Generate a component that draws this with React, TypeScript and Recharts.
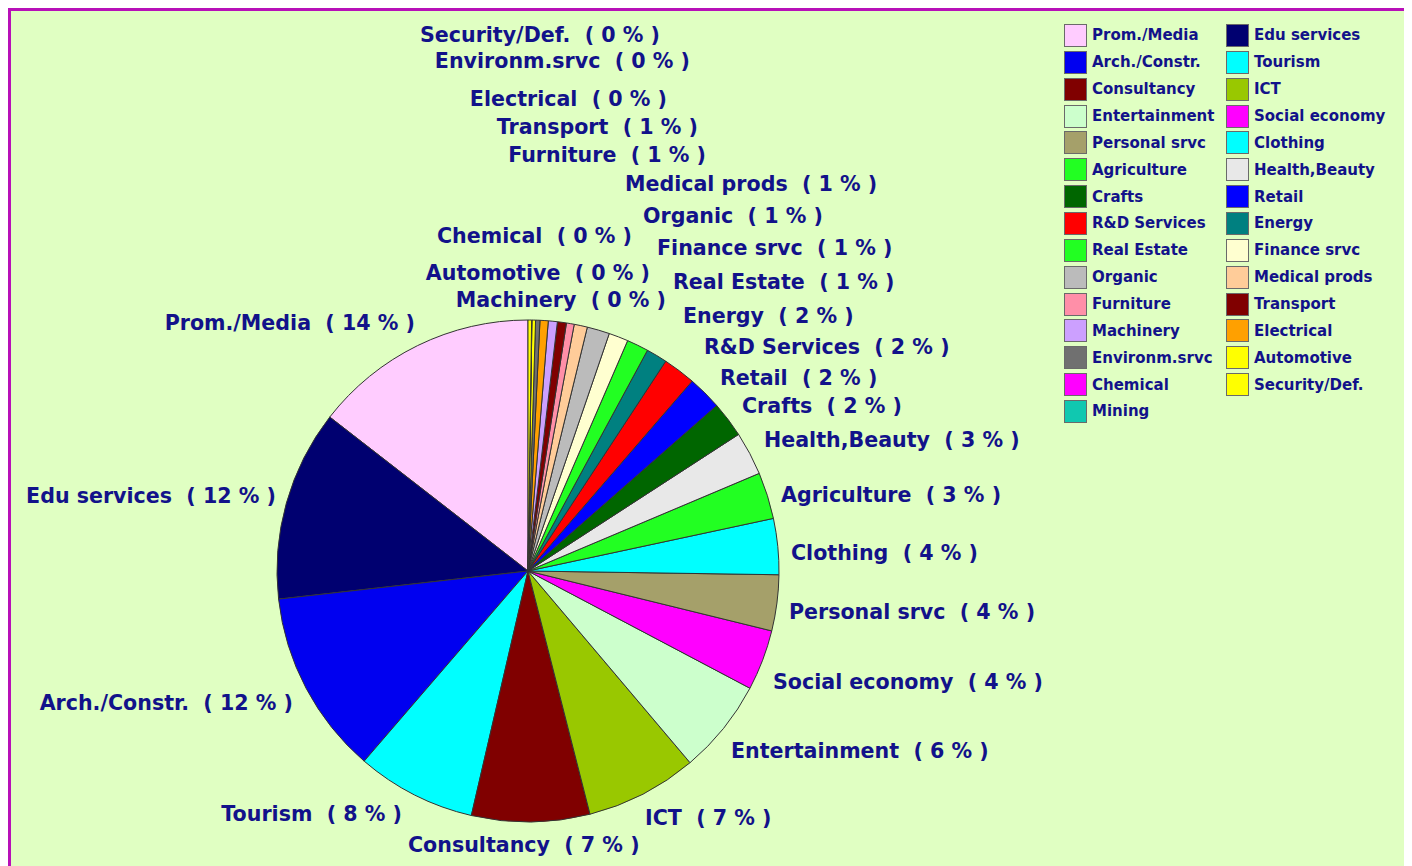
import React from "react";
import { Legend, Pie, PieChart } from "recharts";

// sectors in drawing order (counter-clockwise from 12 o'clock)
const categories = [
  "Prom./Media", "Edu services", "Arch./Constr.", "Tourism", "Consultancy", "ICT",
  "Entertainment", "Social economy", "Personal srvc", "Clothing", "Agriculture",
  "Health,Beauty", "Crafts", "Retail", "R&D Services", "Energy", "Real Estate",
  "Finance srvc", "Organic", "Medical prods", "Furniture", "Transport", "Machinery",
  "Electrical", "Environm.srvc", "Automotive", "Chemical", "Security/Def.", "Mining",
];

// share of the pie
const shares = [
  14.5, 12.3, 11.9, 7.7, 7.6, 7.2, 6.1, 3.9, 3.6, 3.6, 3.0, 2.8, 2.3, 2.2, 2.1,
  1.35, 1.4, 1.25, 1.45, 0.85, 0.5, 0.58, 0.58, 0.53, 0.28, 0.23, 0.02, 0.23, 0,
];

// rounded percentages as printed on the labels (null = no label)
const printedPct: (number | null)[] = [
  14, 12, 12, 8, 7, 7, 6, 4, 4, 4, 3, 3, 2, 2, 2, 2, 1, 1, 1, 1, 1, 1, 0, 0, 0, 0, 0, 0, null,
];

const colors = [
  "#FFCCFF", "#000070", "#0000F0", "#00FFFF", "#800000", "#99C800", "#CCFFCC",
  "#FF00FF", "#A5A06A", "#00FFFF", "#22FF22", "#E8E8E8", "#006600", "#0000FF",
  "#FF0000", "#008080", "#22FF22", "#FFFFD0", "#BBBBBB", "#FFCC99", "#FF8FA8",
  "#800000", "#CCA0FF", "#FFA000", "#707070", "#FFFF00", "#FF00FF", "#FFFF00",
  "#10C8B0",
];

// label placement in page pixels: [anchor, x, y]
const labelSpots: Record<string, [string, number, number]> = {
  "Prom./Media": ["end", 415, 323],
  "Edu services": ["end", 276, 496],
  "Arch./Constr.": ["end", 293, 703],
  Tourism: ["end", 402, 814],
  Consultancy: ["start", 408, 845],
  ICT: ["start", 645, 818],
  Entertainment: ["start", 731, 751],
  "Social economy": ["start", 773, 682],
  "Personal srvc": ["start", 789, 612],
  Clothing: ["start", 791, 553],
  Agriculture: ["start", 781, 495],
  "Health,Beauty": ["start", 764, 440],
  Crafts: ["start", 742, 406],
  Retail: ["start", 720, 378],
  "R&D Services": ["start", 704, 347],
  Energy: ["start", 683, 316],
  "Real Estate": ["start", 673, 282],
  "Finance srvc": ["start", 657, 248],
  Organic: ["start", 643, 216],
  "Medical prods": ["start", 625, 184],
  Furniture: ["end", 706, 155],
  Transport: ["end", 698, 127],
  Machinery: ["end", 666, 300],
  Electrical: ["end", 667, 99],
  "Environm.srvc": ["end", 690, 61],
  Automotive: ["end", 650, 273],
  Chemical: ["end", 632, 236],
  "Security/Def.": ["end", 660, 35],
};

const data = categories.map((name, i) => ({
  name,
  value: shares[i],
  pct: printedPct[i],
  fill: colors[i],
}));

const ORIGIN = 11; // page offset of the chart (body margin + frame border)
const INK = "#12128A";
const FONT = "'DejaVu Sans', Verdana, sans-serif";

function renderLabel(props: any) {
  const entry = data[props.index];
  const spot = labelSpots[entry.name];
  if (!spot || entry.pct === null) return null;
  const [anchor, x, y] = spot;
  return (
    <text
      x={x - ORIGIN}
      y={y - ORIGIN}
      textAnchor={anchor as any}
      dominantBaseline="central"
      fill={INK}
      fontFamily={FONT}
      fontWeight="bold"
      fontSize={20.6}
      style={{ whiteSpace: "pre" }}
    >
      {`${entry.name}  ( ${entry.pct} % )`}
    </text>
  );
}

function LegendGrid() {
  return (
    <div
      style={{
        display: "grid",
        gridTemplateColumns: "162px 162px",
        gridAutoRows: "26.86px",
        fontFamily: FONT,
        fontWeight: "bold",
        fontSize: 15,
        color: INK,
      }}
    >
      {categories.map((name, i) => (
        <div key={name} style={{ display: "flex", alignItems: "center" }}>
          <span
            style={{
              width: 23,
              height: 23,
              boxSizing: "border-box",
              background: colors[i],
              border: "1px solid #6a6a6a",
              marginRight: 5,
              flex: "none",
            }}
          />
          <span style={{ whiteSpace: "nowrap" }}>{name}</span>
        </div>
      ))}
    </div>
  );
}

export default function App() {
  return (
    <div
      style={{
        width: 1401,
        height: 855,
        background: "#E0FFC2",
        borderTop: "3px solid #B810B8",
        borderLeft: "3px solid #B810B8",
        overflow: "hidden",
      }}
    >
      <PieChart width={1401} height={855} margin={{ top: 0, right: 0, bottom: 0, left: 0 }}>
        <Pie
          data={data}
          dataKey="value"
          nameKey="name"
          cx={517}
          cy={560}
          outerRadius={251}
          startAngle={90}
          endAngle={450}
          stroke="#333333"
          strokeWidth={1}
          label={renderLabel}
          labelLine={false}
          isAnimationActive={false}
        />
        <Legend
          content={() => <LegendGrid />}
          wrapperStyle={{ position: "absolute", left: 1053, top: 11, width: 340, bottom: "auto" }}
        />
      </PieChart>
    </div>
  );
}
